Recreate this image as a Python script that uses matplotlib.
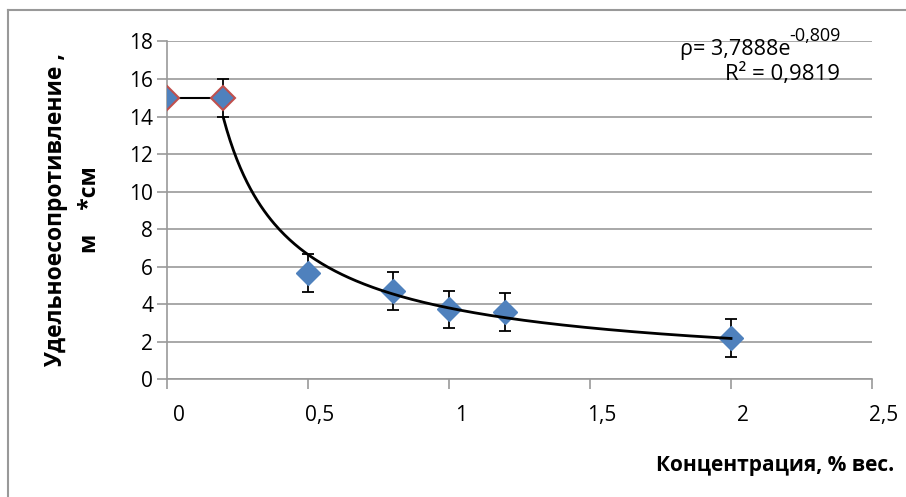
import numpy as np
import matplotlib.pyplot as plt
import matplotlib.transforms as mtransforms
from matplotlib.lines import Line2D

plt.rcParams['font.family'] = ['Open Sans', 'DejaVu Sans']

# Данные
conc = [0.0, 0.2, 0.5, 0.8, 1.0, 1.2, 2.0]
rho = [15.0, 15.0, 5.65, 4.7, 3.72, 3.58, 2.18]
err = [0, 1, 1, 1, 1, 1, 1]

# Степенной тренд
a_coef = 3.7888
b_exp = -0.809
x_fit_min, x_fit_max = 0.2, 2.0

x_ticks = [0, 0.5, 1, 1.5, 2, 2.5]
x_labels = ["0", "0,5", "1", "1,5", "2", "2,5"]
y_ticks = list(range(0, 19, 2))

blue = '#4F81BD'
red = '#C0504D'
grid_c = '#9A9A9A'

fig = plt.figure(figsize=(9.06, 4.97), dpi=100)
ax = fig.add_axes([0.1843, 0.2374, 0.9625 - 0.1843, 0.9165 - 0.2374])

# рамка диаграммы
fig.add_artist(Line2D([8 / 906, 8 / 906], [0, 1 - 10 / 497], transform=fig.transFigure,
                      color='#999999', lw=1.5))
fig.add_artist(Line2D([8 / 906, 1], [1 - 10 / 497, 1 - 10 / 497], transform=fig.transFigure,
                      color='#999999', lw=1.5))

# горизонтальная линия между первыми точками
ax.plot(conc[:2], rho[:2], color='black', lw=1.5, zorder=3)

# погрешности
ax.errorbar(conc[1:], rho[1:], yerr=err[1:], fmt='none', ecolor='black',
            elinewidth=1.3, capsize=4, capthick=1.3, zorder=3)

# точки
ax.plot(conc[2:], rho[2:], linestyle='none', marker='D', markersize=12,
        markerfacecolor=blue, markeredgecolor=blue, zorder=4)
ax.plot(conc[:2], rho[:2], linestyle='none', marker='D', markersize=12,
        markerfacecolor=blue, markeredgecolor=red, markeredgewidth=1.5, zorder=4)

# линия тренда
xf = np.linspace(x_fit_min, x_fit_max, 300)
ax.plot(xf, a_coef * xf ** b_exp, color='black', lw=2, zorder=5)

ax.set_xlim(0, 2.5)
ax.set_ylim(0, 18)
ax.set_xticks(x_ticks)
ax.set_xticklabels(x_labels)
ax.set_yticks(y_ticks)

ax.grid(True, axis='y', color=grid_c, lw=1.2)
ax.set_axisbelow(True)
for s in ['top', 'right']:
    ax.spines[s].set_visible(False)
for s in ['left', 'bottom']:
    ax.spines[s].set_color(grid_c)
    ax.spines[s].set_linewidth(1.2)

ax.tick_params(axis='both', direction='out', color=grid_c, width=1.2, length=7,
               labelsize=15)
ax.tick_params(axis='x', pad=12)
ax.tick_params(axis='y', pad=3)

offset = mtransforms.ScaledTranslation(12 / 100, 0, fig.dpi_scale_trans)
for lbl in ax.get_xticklabels():
    lbl.set_transform(lbl.get_transform() + offset)

fig.text(775 / 906, 1 - 466 / 497, "Концентрация, % вес.", ha='center', va='center',
         fontsize=15, fontweight='bold')
fig.text(73 / 906, 1 - 210 / 497, "Удельноесопротивление ,\nм    *см", ha='center',
         va='center', rotation=90, fontsize=16.5, fontweight='bold', linespacing=1.6)

# уравнение тренда
fig.text(791 / 906, 1 - 50 / 497, "ρ= 3,7888e", ha='right', va='center', fontsize=15.5)
fig.text(789 / 906, 1 - 36 / 497, "-0,809", ha='left', va='center', fontsize=13)
fig.text(840 / 906, 1 - 74 / 497, "R² = 0,9819", ha='right', va='center', fontsize=16)

fig.savefig('out.png', dpi=100)
